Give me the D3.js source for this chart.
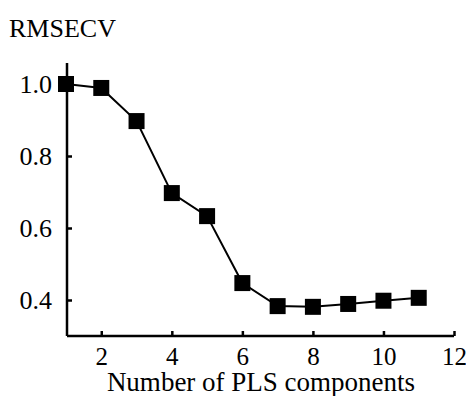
<!DOCTYPE html>
<html>
<head>
<meta charset="utf-8">
<script src="https://cdn.jsdelivr.net/npm/d3@7"></script>
<style>
  body { margin: 0; background: #fff; }
  text { font-family: "Liberation Serif", "Times New Roman", serif; fill: #000; }
</style>
</head>
<body>
<svg id="plot" width="466" height="396"></svg>
<script>
// PLS components vs RMSECV
const components = [1, 2, 3, 4, 5, 6, 7, 8, 9, 10, 11]
const rmsecv = [1.0, 0.989, 0.897, 0.697, 0.633, 0.447, 0.383, 0.381, 0.389, 0.398, 0.406]
const xTicks = [2, 4, 6, 8, 10, 12]
const yTicks = [0.4, 0.6, 0.8, 1.0]

const width = 466, height = 396
    , plotLeft = 67, plotRight = 454
    , plotTop = 63, plotBottom = 336
    , markerSize = 16

const x = d3.scaleLinear().domain([1, 12]).range([66, 454])
const y = d3.scaleLinear().domain([0.3, 1.0]).range([336, 84])

const svg = d3.select('#plot')

// x axis, ticks pointing inward
const gx = svg.append('g')
    .attr('transform', `translate(0,${plotBottom})`)
    .call(d3.axisBottom(x).tickValues(xTicks).tickSize(-5).tickPadding(11).tickFormat(d3.format('d')))
gx.select('.domain').attr('d', `M${plotLeft},0H${plotRight}`)
gx.selectAll('.domain, line').attr('stroke', '#000').attr('stroke-width', 2.5)
gx.selectAll('text').style('font-size', '25px').attr('dy', '0.71em')

// y axis
const gy = svg.append('g')
    .attr('transform', `translate(${plotLeft},0)`)
    .call(d3.axisLeft(y).tickValues(yTicks).tickSize(-5).tickPadding(15).tickFormat(d3.format('.1f')))
gy.select('.domain').attr('d', `M0,${plotTop}V${plotBottom}`)
gy.selectAll('.domain, line').attr('stroke', '#000').attr('stroke-width', 2.5)
gy.selectAll('text').style('font-size', '26px')

svg.selectAll('.domain').attr('fill', 'none')

// line
svg.append('path')
    .datum(components.map((c, i) => [c, rmsecv[i]]))
    .attr('fill', 'none')
    .attr('stroke', '#000')
    .attr('stroke-width', 2)
    .attr('d', d3.line().x(d => x(d[0])).y(d => y(d[1])))

// square markers
svg.selectAll('rect.marker')
    .data(components.map((c, i) => [c, rmsecv[i]]))
    .join('rect')
    .attr('class', 'marker')
    .attr('x', d => x(d[0]) - markerSize / 2)
    .attr('y', d => y(d[1]) - markerSize / 2)
    .attr('width', markerSize)
    .attr('height', markerSize)
    .attr('fill', '#000')

// labels
svg.append('text')
    .attr('x', 9)
    .attr('y', 37)
    .style('font-size', '26px')
    .text('RMSECV')

svg.append('text')
    .attr('x', 261)
    .attr('y', 391)
    .attr('text-anchor', 'middle')
    .style('font-size', '27px')
    .text('Number of PLS components')
</script>
</body>
</html>
